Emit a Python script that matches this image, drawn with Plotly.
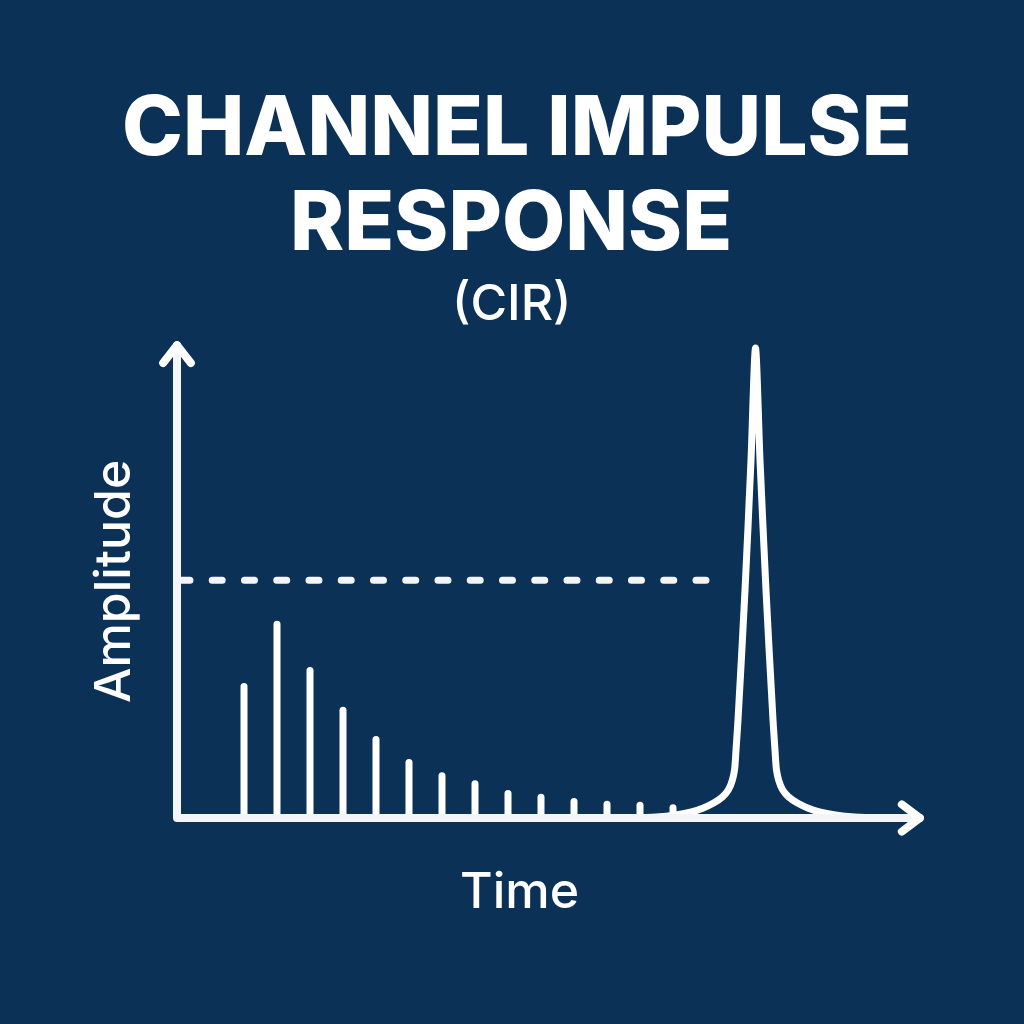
import plotly.graph_objects as go

# ---- data ----
tap_time = [1, 2, 3, 4, 5, 6, 7, 8, 9, 10, 11, 12, 13, 14]
tap_amp = [0.280, 0.412, 0.314, 0.229, 0.167, 0.118, 0.090, 0.073,
           0.052, 0.044, 0.035, 0.029, 0.027, 0.022]

peak_center = 16.5
peak_offset_right = [0.0, 0.136, 0.318, 0.53, 0.59, 0.636, 0.70, 0.82, 1.0, 1.27,
                     1.6, 1.94, 2.42, 3.0, 3.9]
peak_amp_right = [1.0, 0.762, 0.485, 0.209, 0.145, 0.102, 0.081, 0.060, 0.045, 0.032,
                  0.021, 0.013, 0.0064, 0.002, 0.0]

threshold = 0.506
threshold_start, threshold_end = -0.94, 15.18

title_lines = ["CHANNEL IMPULSE", "RESPONSE"]
subtitle = "(CIR)"
x_label = "Time"
y_label = "Amplitude"

# ---- style ----
BG = "#0c3156"
FG = "#ffffff"
AXIS = "#f3f5f7"
FONT = "Inter"

x0, x_tip = -1.03, 21.48
y_tip = 1.006

fig = go.Figure()

# stems
sx, sy = [], []
for t, a in zip(tap_time, tap_amp):
    sx += [t, t, None]
    sy += [0, a, None]
fig.add_trace(go.Scatter(x=sx, y=sy, mode="lines",
                         line=dict(color=FG, width=7), hoverinfo="skip"))

# main peak (symmetric)
px_ = [peak_center - o for o in reversed(peak_offset_right[1:])] + \
      [peak_center + o for o in peak_offset_right]
py_ = list(reversed(peak_amp_right[1:])) + peak_amp_right
fig.add_trace(go.Scatter(x=px_, y=py_, mode="lines",
                         line=dict(color=FG, width=7, shape="spline", smoothing=0.8),
                         hoverinfo="skip"))

# threshold dashed line
fig.add_trace(go.Scatter(x=[threshold_start, threshold_end], y=[threshold, threshold],
                         mode="lines", line=dict(color=AXIS, width=7, dash="10px,22.25px"),
                         hoverinfo="skip"))

# axes with arrow heads
fig.add_trace(go.Scatter(x=[x0, x0, x_tip], y=[y_tip, 0, 0], mode="lines",
                         line=dict(color=AXIS, width=8), hoverinfo="skip"))
fig.add_trace(go.Scatter(x=[x0 - 0.42, x0, x0 + 0.42], y=[y_tip - 0.038, y_tip, y_tip - 0.038],
                         mode="lines", line=dict(color=FG, width=8), hoverinfo="skip"))
fig.add_trace(go.Scatter(x=[x_tip - 0.545, x_tip, x_tip - 0.545], y=[0.029, 0, -0.029],
                         mode="lines", line=dict(color=FG, width=8), hoverinfo="skip"))

annotations = [
    dict(text=title_lines[0], x=517 / 1024, y=1 - 125 / 1024, font=dict(size=82, weight=800)),
    dict(text=title_lines[1], x=511 / 1024, y=1 - 220 / 1024, font=dict(size=82, weight=800)),
    dict(text=subtitle, x=512 / 1024, y=1 - 302 / 1024, font=dict(size=50, weight=500)),
    dict(text=x_label, x=519 / 1024, y=1 - 890 / 1024, font=dict(size=50, weight=500)),
    dict(text=y_label, x=112 / 1024, y=1 - 582 / 1024, font=dict(size=50, weight=500), textangle=-90),
]
for a in annotations:
    a.update(xref="paper", yref="paper", showarrow=False, xanchor="center", yanchor="middle")
    a["font"].update(family=FONT, color=FG)

fig.update_layout(
    width=1024, height=1024, autosize=False,
    margin=dict(l=0, r=0, t=0, b=0),
    paper_bgcolor=BG, plot_bgcolor=BG,
    showlegend=False,
    annotations=annotations,
    xaxis=dict(range=[-211 / 33, (1024 - 211) / 33], visible=False, fixedrange=True),
    yaxis=dict(range=[-(1024 - 818) / 470, 818 / 470], visible=False, fixedrange=True),
)

post = ("var s=document.createElement('style');"
        "s.textContent='html,body{margin:0;padding:0;background:" + BG + ";overflow:hidden;}"
        ".js-line{stroke-linecap:round;stroke-linejoin:round;}';"
        "document.head.appendChild(s);")
fig.write_html("out.html", post_script=post, config={"displayModeBar": False})
